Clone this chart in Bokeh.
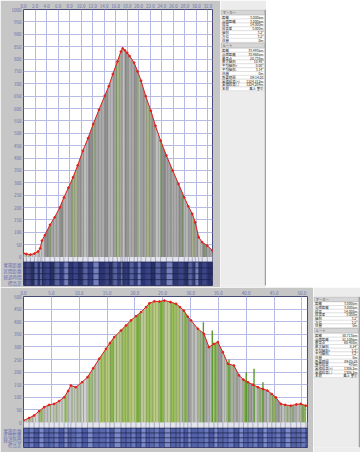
from bokeh.plotting import figure
from bokeh.models import Range1d, FixedTicker, Label, Spacer, NumeralTickFormatter
from bokeh.layouts import column, row
from bokeh.embed import file_html
from bokeh.resources import INLINE
from bokeh.core.properties import value

JP = "Noto Sans CJK JP"

# ---------------- data ----------------
top_km = [0.0, 0.5, 1.2, 1.9, 2.5, 2.9, 3.2, 3.7, 4.6, 5.4, 6.3, 7.0, 7.8, 8.6, 9.4,
          10.3, 11.2, 12.1, 13.1, 14.1, 14.8, 15.5, 16.3, 16.9, 17.2, 17.6, 18.0, 18.4,
          19.2, 19.8, 20.4, 21.2, 22.1, 22.9, 23.8, 24.8, 25.9, 26.9, 27.9, 28.6, 29.3,
          29.8, 30.4, 31.0, 31.9, 32.8]
top_elev = [15, 12, 10, 14, 22, 35, 66, 88, 130, 160, 200, 240, 280, 322, 370,
            429, 480, 537, 595, 651, 690, 739, 790, 830, 843, 835, 825, 812,
            785, 750, 712, 650, 591, 530, 470, 410, 349, 295, 241, 205, 174,
            140, 80, 60, 46, 26]

bottom_km = [0.0, 1.0, 1.9, 2.8, 3.7, 4.6, 5.5, 6.4, 7.3, 8.0, 8.5, 9.4, 10.5, 11.5,
             12.5, 13.6, 14.8, 15.5, 16.3, 17.5, 18.4, 19.3, 20.2, 21.1, 22.0, 22.6,
             23.5, 24.4, 25.3, 26.4, 27.4, 28.1, 28.8, 29.5, 30.1, 31.3, 32.4, 33.3,
             34.2, 34.9, 35.8, 36.7, 37.8, 38.7, 39.5, 40.3, 41.2, 42.1, 43.0, 43.8,
             44.6, 45.3, 46.2, 47.0, 48.0, 49.0, 49.8, 50.7]
bottom_elev = [8, 18, 28, 45, 61, 70, 74, 85, 100, 125, 147, 140, 160, 180,
               215, 253, 292, 315, 339, 365, 385, 405, 422, 438, 458, 473,
               481, 480, 484, 478, 471, 458, 444, 420, 405, 372, 352, 299,
               312, 319, 279, 233, 226, 187, 170, 160, 150, 140, 133, 127,
               113, 100, 74, 70, 67, 72, 74, 67]

spike_km = [32.3, 33.9, 36.9, 40.0, 41.4, 43.0]
spike_elev = [398, 365, 250, 200, 213, 160]

top_x_ticks = [0, 2, 4, 6, 8, 10, 12, 14, 16, 18, 20, 22, 24, 26, 28, 30, 32]
bottom_x_ticks = [0, 5, 10, 15, 20, 25, 30, 35, 40, 45, 50]
top_y_ticks = [0, 50, 100, 150, 200, 250, 300, 350, 400, 450, 500, 550, 600, 650,
               700, 750, 800, 850, 900, 950, 1000]
bottom_y_ticks = [0, 50, 100, 150, 200, 250, 300, 350, 400, 450, 500]

strip_labels = ["累積距離", "区間距離", "経過時間", "標高差"]

marker_header = "マーカー"
route_header = "ルート"
marker_names = ["距離", "沿面距離", "標高", "標高差", "傾斜", "方位", "休憩"]
top_marker_values = ["3.000km", "3.000km", "14.000m", "3.000m", "3.2°", "3.2°", "0m"]
bottom_marker_values = ["3.000km", "3.000km", "14.000m", "3.000m", "3.2°", "3.2°", "0m"]
top_route_names = ["距離", "沿面距離", "最高点", "最大傾斜", "平均傾斜+", "平均傾斜-",
                   "休憩", "所要時間", "累積標高(+)", "累積標高(-)", "名前"]
top_route_values = ["33.493km", "33.968km", "20.738m", "10.48°", "0.00°", "3.14°",
                    "0m", "09:14:20", "1224.212m", "1224.204m", "風上 夢の"]
bottom_route_names = ["距離", "沿面距離", "最高点", "最大傾斜", "平均傾斜+", "平均傾斜-",
                      "休憩", "所要時間", "獲得標高", "累積標高(+)", "累積標高(-)", "名前"]
bottom_route_values = ["50.713km", "51.109km", "60.400m", "8.24°", "3.2°", "3.2°",
                       "0m", "09:05:28", "476m", "1306.2m", "1306.2m", "風上 夢の"]

# ---------------- style ----------------
AXIS_COLOR = "#6670b0"
GRID_COLOR = "#b6bae4"
PANEL = "#c6c6c6"
RED = "#e0201c"


def style_axes(p, x_ticks, y_ticks, row_centers):
    p.xaxis.ticker = FixedTicker(ticks=x_ticks)
    p.xaxis.formatter = NumeralTickFormatter(format="0.0")
    p.yaxis.ticker = FixedTicker(ticks=y_ticks + row_centers)
    p.yaxis.major_label_overrides = {c: lab for c, lab in zip(row_centers, strip_labels)}
    for ax in (p.xaxis, p.yaxis):
        ax.axis_line_color = None
        ax.major_tick_line_color = None
        ax.minor_tick_line_color = None
        ax.major_tick_out = 0
        ax.major_tick_in = 0
        ax.major_label_standoff = 2
        ax.major_label_text_font_size = "4.5px"
        ax.major_label_text_color = AXIS_COLOR
        ax.major_label_text_font = JP
    p.xgrid.ticker = FixedTicker(ticks=x_ticks)
    p.ygrid.ticker = FixedTicker(ticks=y_ticks)
    p.grid.grid_line_color = GRID_COLOR
    p.grid.grid_line_width = 1


def profile_fig(km, elev, x_end, y_lo, y_hi, W, H, bl, br, bt, bb,
                x_ticks, y_ticks, light_h, fill_for, strip_pal, spikes=None):
    p = figure(width=W, height=H, x_range=Range1d(0, x_end), y_range=Range1d(y_lo, y_hi),
               x_axis_location="above", toolbar_location=None, output_backend="svg",
               min_border_left=bl, min_border_right=br, min_border_top=bt,
               min_border_bottom=bb)
    p.background_fill_color = "white"
    p.border_fill_color = PANEL
    p.outline_line_color = "#4a4a78"
    p.outline_line_width = 1

    row_h = (-light_h - y_lo) / 4.0
    row_edges = [-light_h - row_h * i for i in range(5)]
    row_centers = [int(round(-light_h - row_h * (i + 0.5))) for i in range(4)]
    style_axes(p, x_ticks, y_ticks, row_centers)

    n = len(km)
    xs = [[km[i], km[i + 1], km[i + 1], km[i]] for i in range(n - 1)]
    ys = [[elev[i], elev[i + 1], 0, 0] for i in range(n - 1)]
    cols = [fill_for(i, km[i]) for i in range(n - 1)]
    p.patches(xs, ys, fill_color=cols, line_color=cols, line_width=0.5)
    # stripe texture
    p.varea(x=km, y1=[0] * n, y2=elev, fill_alpha=0, hatch_pattern="|",
            hatch_color="#6a6a6a", hatch_alpha=0.35, hatch_scale=3, hatch_weight=0.8)
    p.varea(x=km, y1=[0] * n, y2=elev, fill_alpha=0, hatch_pattern="|",
            hatch_color="#5f9a2c", hatch_alpha=0.35, hatch_scale=11, hatch_weight=1.2)
    if spikes is not None:
        p.segment(x0=spikes[0], y0=[0] * len(spikes[0]), x1=spikes[0], y1=spikes[1],
                  line_color="#5a9a2a", line_width=1.4)
    p.line(km, elev, line_color=RED, line_width=1.0)
    p.scatter(km, elev, size=1.8, color=RED)

    # data strip below the profile
    p.quad(left=[0], right=[x_end], top=[0], bottom=[-light_h],
           fill_color="#e4e4ec", line_color=None)
    p.segment(x0=km, y0=[0] * n, x1=km, y1=[-light_h] * n, line_color="#8088a8", line_width=0.6)
    lefts = km
    rights = km[1:] + [x_end]
    scols = [strip_pal[i % len(strip_pal)] for i in range(n)]
    p.quad(left=lefts, right=rights, top=[-light_h] * n, bottom=[y_lo] * n,
           fill_color=scols, line_color=None)
    p.segment(x0=[0] * 5, y0=row_edges, x1=[x_end] * 5, y1=row_edges,
              line_color="#1a1e4c", line_width=0.7)
    p.segment(x0=km, y0=[-light_h] * n, x1=km, y1=[y_lo] * n,
              line_color="#181c46", line_width=0.6)
    return p


def top_fill(i, k):
    pal = ["#aaaaaa", "#929292", "#b6b6b6", "#9e9e9e", "#a6af8a", "#9a9a9a",
           "#bebebe", "#8e8e8e", "#a4a4a4"]
    if k < 3:
        return "#c4c4c4"
    return pal[i % len(pal)]


def bottom_fill(i, k):
    if k < 13:
        pal = ["#c6c6c6", "#b4bca4", "#d2d2d2", "#a0bc7c", "#bebebe"]
    elif k < 28:
        pal = ["#a6c268", "#b8ca80", "#88b44c", "#bcc896", "#9abe5c"]
    else:
        pal = ["#a8a8a8", "#b8b8b8", "#8cb060", "#9a9a9a", "#c0c0c0", "#a4b490"]
    return pal[i % len(pal)]


top_p = profile_fig(top_km, top_elev, 32.8, -115, 1000, 220, 287, 22, 8, 8, 2,
                    top_x_ticks, top_y_ticks, 20, top_fill,
                    ["#2c3472", "#3a4488", "#263066", "#56629e", "#303a7c", "#7480bc"])
top_p.add_layout(Label(x=2, y=280, x_units="canvas", y_units="canvas", text="(m)",
                       text_font_size="4.5px", text_color=AXIS_COLOR))
top_p.add_layout(Label(x=211, y=280, x_units="canvas", y_units="canvas", text="(km)",
                       text_font_size="4.5px", text_color=AXIS_COLOR))

bot_p = profile_fig(bottom_km, bottom_elev, 51.0, -99, 500, 313, 165, 23, 6, 9, 5,
                    bottom_x_ticks, bottom_y_ticks, 22, bottom_fill,
                    ["#5868ac", "#6a78bc", "#4a5aa0", "#7c8ac8", "#5262a6"],
                    spikes=(spike_km, spike_elev))
bot_p.add_layout(Label(x=2, y=156, x_units="canvas", y_units="canvas", text="(m)",
                       text_font_size="4.5px", text_color=AXIS_COLOR))
bot_p.add_layout(Label(x=303, y=158, x_units="canvas", y_units="canvas", text="(km)",
                       text_font_size="4.5px", text_color=AXIS_COLOR))


def table_fig(W, H, m_vals, r_names, r_vals):
    t = figure(width=W, height=H, x_range=Range1d(0, W), y_range=Range1d(H, 0),
               toolbar_location=None, output_backend="svg", x_axis_type=None,
               y_axis_type=None, min_border_left=0, min_border_right=0,
               min_border_top=0, min_border_bottom=0)
    t.grid.visible = False
    t.outline_line_color = None
    t.background_fill_color = "#ececec"
    t.border_fill_color = "#ececec"
    rh = 4.0
    # marker header
    t.quad(left=[0.5], right=[W - 2], top=[0.5], bottom=[5.5], fill_color="#d6d6d6",
           line_color="#a8a8a8", line_width=0.5)
    t.text(x=[2], y=[3.1], text=[marker_header], text_font=value(JP),
           text_font_size=value("3.4px"), text_baseline="middle", text_color="#333333")
    nm = len(m_vals)
    tops = [6 + i * rh for i in range(nm)]
    t.quad(left=[0.5] * nm, right=[W - 2] * nm, top=tops, bottom=[y + rh for y in tops],
           fill_color="white", line_color="#d0d0d0", line_width=0.5)
    t.text(x=[1.5] * nm, y=[y + rh / 2 for y in tops], text=marker_names, text_font=value(JP),
           text_font_size=value("3.4px"), text_baseline="middle", text_color="#222222")
    t.text(x=[W - 3] * nm, y=[y + rh / 2 for y in tops], text=m_vals, text_font=value(JP),
           text_font_size=value("3.4px"), text_baseline="middle", text_align="right",
           text_color="#222222")
    h2 = 6 + nm * rh + 1
    t.quad(left=[0.5], right=[W - 2], top=[h2], bottom=[h2 + 5], fill_color="#d6d6d6",
           line_color="#a8a8a8", line_width=0.5)
    t.text(x=[2], y=[h2 + 2.5], text=[route_header], text_font=value(JP),
           text_font_size=value("3.4px"), text_baseline="middle", text_color="#333333")
    nr = len(r_vals)
    rtops = [h2 + 5.5 + i * rh for i in range(nr)]
    t.quad(left=[0.5] * nr, right=[W - 2] * nr, top=rtops, bottom=[y + rh for y in rtops],
           fill_color="white", line_color="#d0d0d0", line_width=0.5)
    t.text(x=[1.5] * nr, y=[y + rh / 2 for y in rtops], text=r_names, text_font=value(JP),
           text_font_size=value("3.4px"), text_baseline="middle", text_color="#222222")
    t.text(x=[W - 3] * nr, y=[y + rh / 2 for y in rtops], text=r_vals, text_font=value(JP),
           text_font_size=value("3.4px"), text_baseline="middle", text_align="right",
           text_color="#222222")
    t.segment(x0=[W - 1], y0=[0], x1=[W - 1], y1=[H], line_color="#a0a0a0", line_width=1.5)
    return t


top_t = table_fig(46, 287, top_marker_values, top_route_names, top_route_values)
bot_t = table_fig(47, 165, bottom_marker_values, bottom_route_names, bottom_route_values)

layout = column(
    row(top_p, top_t, Spacer(width=94, height=287)),
    row(bot_p, bot_t),
)

open("out.html", "w").write(file_html(layout, INLINE))
